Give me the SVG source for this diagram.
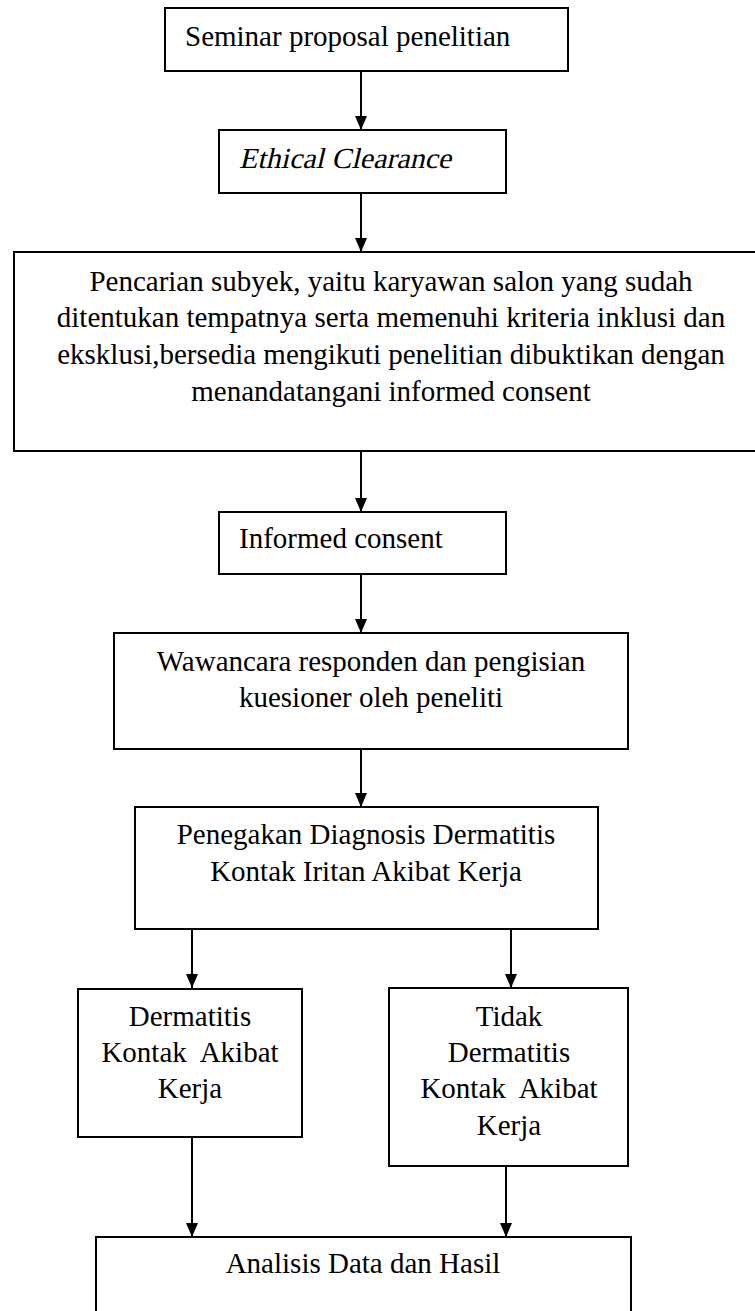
<svg xmlns="http://www.w3.org/2000/svg" width="755" height="1311" viewBox="0 0 755 1311">
<style>
.box{fill:#fff;stroke:#000;stroke-width:2}
.t{font-family:"Liberation Serif","Times New Roman",serif;font-size:29px;fill:#000}
.c{text-anchor:middle}
.conn line{stroke:#000;stroke-width:2}
</style>
<defs>
<marker id="ah" markerUnits="userSpaceOnUse" markerWidth="14" markerHeight="12" refX="14" refY="6" orient="auto" viewBox="0 0 14 12">
<path d="M0,0 L14,6 L0,12 Z" fill="#000"/>
</marker>
</defs>
<rect width="755" height="1311" fill="#fff"/>
<g id="connectors" class="conn">
<line x1="361" y1="71" x2="361" y2="130" marker-end="url(#ah)"/>
<line x1="361" y1="193" x2="361" y2="252" marker-end="url(#ah)"/>
<line x1="361" y1="451" x2="361" y2="512" marker-end="url(#ah)"/>
<line x1="361" y1="574" x2="361" y2="633" marker-end="url(#ah)"/>
<line x1="361" y1="749" x2="361" y2="807" marker-end="url(#ah)"/>
<line x1="192" y1="929" x2="192" y2="988" marker-end="url(#ah)"/>
<line x1="511" y1="929" x2="511" y2="988" marker-end="url(#ah)"/>
<line x1="192" y1="1137" x2="192" y2="1237" marker-end="url(#ah)"/>
<line x1="506" y1="1166" x2="506" y2="1237" marker-end="url(#ah)"/>
</g>
<g id="n1"><rect class="box" x="165" y="8" width="403" height="63"/><text class="t" x="185" y="46">Seminar proposal penelitian</text></g>
<g id="n2"><rect class="box" x="219" y="130" width="287" height="63"/><text class="t" x="0" y="0" transform="translate(239,168) skewX(-13)" textLength="212" lengthAdjust="spacingAndGlyphs">Ethical Clearance</text></g>
<g id="n3"><rect class="box" x="14" y="252" width="760" height="199"/>
<text class="t c" x="391" y="291">Pencarian subyek, yaitu karyawan salon yang sudah</text>
<text class="t c" x="391" y="327">ditentukan tempatnya serta memenuhi kriteria inklusi dan</text>
<text class="t c" x="391" y="364">eksklusi,bersedia mengikuti penelitian dibuktikan dengan</text>
<text class="t c" x="391" y="401">menandatangani informed consent</text></g>
<g id="n4"><rect class="box" x="219" y="512" width="287" height="62"/><text class="t" x="239" y="548">Informed consent</text></g>
<g id="n5"><rect class="box" x="114" y="633" width="514" height="116"/>
<text class="t c" x="371" y="671">Wawancara responden dan pengisian</text>
<text class="t c" x="371" y="707">kuesioner oleh peneliti</text></g>
<g id="n6"><rect class="box" x="135" y="807" width="463" height="122"/>
<text class="t c" x="366" y="844">Penegakan Diagnosis Dermatitis</text>
<text class="t c" x="366" y="881">Kontak Iritan Akibat Kerja</text></g>
<g id="n7"><rect class="box" x="78" y="989" width="224" height="148"/>
<text class="t c" x="190" y="1026">Dermatitis</text>
<text class="t c" x="190" y="1062" xml:space="preserve">Kontak  Akibat</text>
<text class="t c" x="190" y="1098">Kerja</text></g>
<g id="n8"><rect class="box" x="389" y="988" width="239" height="178"/>
<text class="t c" x="509" y="1026">Tidak</text>
<text class="t c" x="509" y="1062">Dermatitis</text>
<text class="t c" x="509" y="1098" xml:space="preserve">Kontak  Akibat</text>
<text class="t c" x="509" y="1135">Kerja</text></g>
<g id="n9"><rect class="box" x="96" y="1237" width="535" height="90"/>
<text class="t c" x="363" y="1273">Analisis Data dan Hasil</text></g>
</svg>
